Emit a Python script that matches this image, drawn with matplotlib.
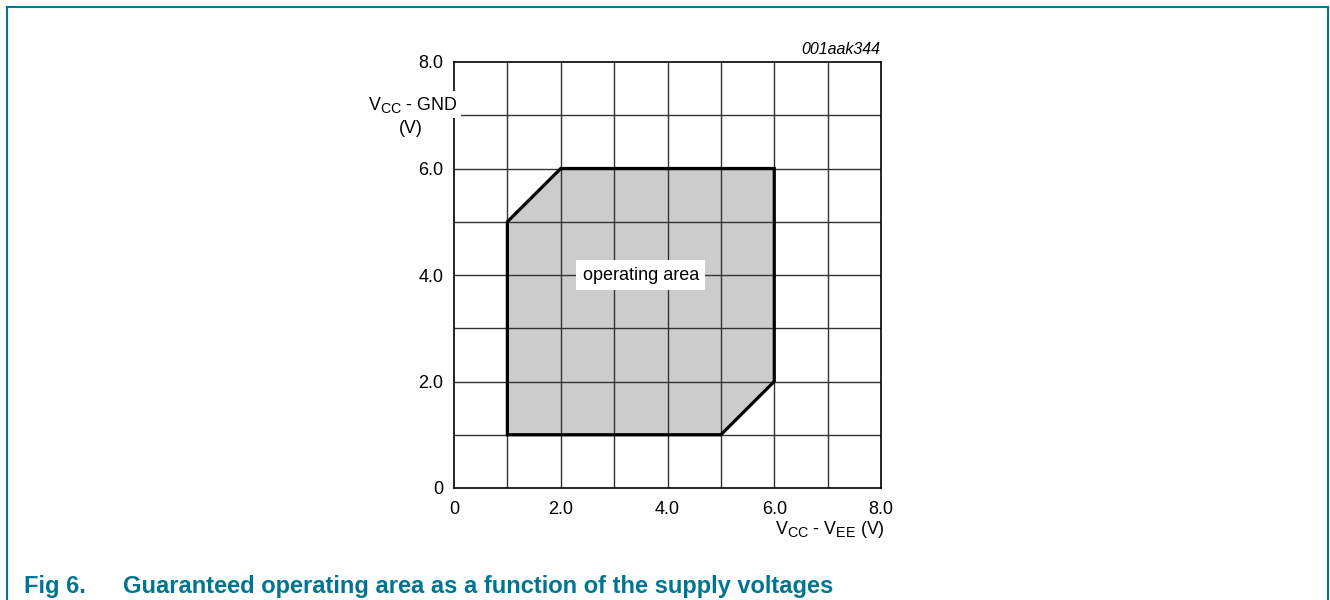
import matplotlib
matplotlib.use("Agg")
import matplotlib.pyplot as plt
from matplotlib.patches import Polygon
import matplotlib._mathtext as _mt

plt.rcParams['font.family'] = ['Liberation Sans', 'DejaVu Sans']
plt.rcParams['mathtext.default'] = 'regular'
# larger subscripts, as in the reference
_mt.SHRINK_FACTOR = 0.8

# Data: operating area polygon vertices (x = VCC - VEE, y = VCC - GND)
area_x = [1.0, 1.0, 2.0, 6.0, 6.0, 5.0]
area_y = [1.0, 5.0, 6.0, 6.0, 2.0, 1.0]
x_ticks = [0, 2, 4, 6, 8]
x_tick_labels = ['0', '2.0', '4.0', '6.0', '8.0']
y_ticks = [0, 2, 4, 6, 8]
y_tick_labels = ['0', '2.0', '4.0', '6.0', '8.0']
grid_vals = [1, 2, 3, 4, 5, 6, 7]

teal = '#00758f'
W, H = 1330, 600

fig = plt.figure(figsize=(13.3, 6.0), dpi=100)
fig.patch.set_facecolor('white')

# frame (open at bottom)
fx0, fx1, fy = 7 / W, 1328 / W, 1 - 7 / H
for xs, ys in [([fx0, fx0], [0, fy]), ([fx0, fx1], [fy, fy]), ([fx1, fx1], [0, fy])]:
    fig.add_artist(plt.Line2D(xs, ys, color=teal, lw=1.5, transform=fig.transFigure))

ax = fig.add_axes([454 / W, 1 - 488 / H, (881 - 454) / W, (488 - 62) / H])
ax.set_xlim(0, 8)
ax.set_ylim(0, 8)

for g in grid_vals:
    ax.axvline(g, color='#333333', lw=1.0, zorder=1)
    ax.axhline(g, color='#333333', lw=1.0, zorder=1)

pts = list(zip(area_x, area_y))
ax.add_patch(Polygon(pts, closed=True, facecolor='#cccccc', edgecolor='none', zorder=0))
ax.add_patch(Polygon(pts, closed=True, facecolor='none', edgecolor='black',
                     lw=2.3, zorder=3, joinstyle='miter'))

for s in ax.spines.values():
    s.set_color('black')
    s.set_linewidth(1.2)

ax.set_xticks(x_ticks)
ax.set_xticklabels(x_tick_labels)
ax.set_yticks(y_ticks)
ax.set_yticklabels(y_tick_labels)
ax.tick_params(length=0, labelsize=13, pad=7.5)
ax.tick_params(axis='x', pad=9)

ax.text(3.5, 4.0, 'operating area', ha='center', va='center', fontsize=13,
        zorder=4, bbox=dict(facecolor='white', edgecolor='none',
                            boxstyle='square,pad=0.35'))

ax.text(7.99, 8.15, '001aak344', ha='right', va='baseline', fontsize=11.5,
        style='italic', clip_on=False)

ax.text(0.056, 7.10, 'V$_{CC}$ - GND', ha='right', va='baseline', fontsize=12.8,
        zorder=5, clip_on=False,
        bbox=dict(facecolor='white', edgecolor='none', boxstyle='square,pad=0.2'))
ax.text(-0.806, 6.75, '(V)', ha='center', va='center', fontsize=12.8, clip_on=False)

ax.text(8.075, -0.864, 'V$_{CC}$ - V$_{EE}$ (V)', ha='right', va='baseline',
        fontsize=12.8, clip_on=False)

fig.text(24 / W, 1 - 593 / H, 'Fig 6.', color=teal, fontsize=17,
         fontweight='bold', ha='left', va='baseline')
fig.text(123 / W, 1 - 593 / H,
         'Guaranteed operating area as a function of the supply voltages',
         color=teal, fontsize=17, fontweight='bold', ha='left', va='baseline')

fig.savefig('out.png', dpi=100, facecolor='white')
